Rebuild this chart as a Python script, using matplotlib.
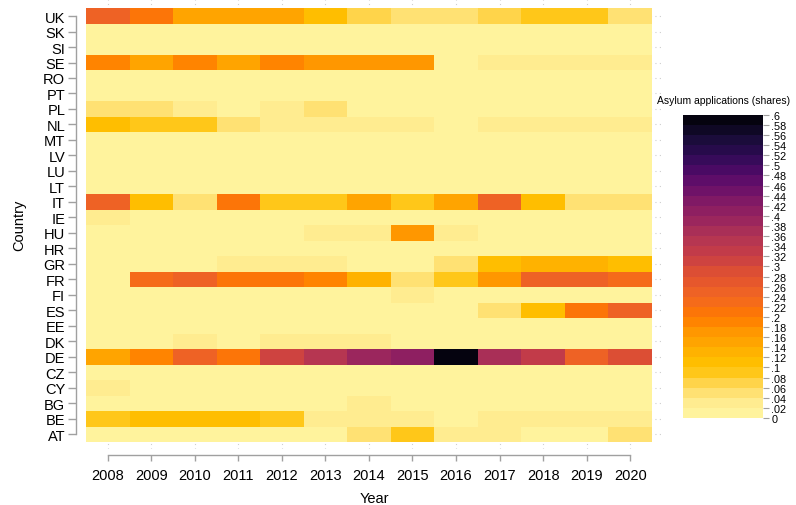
import numpy as np
import matplotlib.pyplot as plt
from matplotlib.colors import LinearSegmentedColormap, ListedColormap, BoundaryNorm

plt.rcParams['font.family'] = ['Liberation Sans', 'DejaVu Sans']

# Data: shares of asylum applications by country and year
years = list(range(2008, 2021))
countries = ["AT", "BE", "BG", "CY", "CZ", "DE", "DK", "EE", "ES", "FI",
             "FR", "GR", "HR", "HU", "IE", "IT", "LT", "LU", "LV", "MT",
             "NL", "PL", "PT", "RO", "SE", "SI", "SK", "UK"]

AT = [0, 0, 0, 0, 0, 0, .055, .08, .035, .035, 0, 0, .04]
BE = [.08, .10, .10, .10, .08, .035, .035, .035, 0, .035, .035, .035, .035]
BG = [0, 0, 0, 0, 0, 0, .035, 0, 0, 0, 0, 0, 0]
CY = [.035, 0, 0, 0, 0, 0, 0, 0, 0, 0, 0, 0, 0]
CZ = [0] * 13
DE = [.15, .18, .24, .20, .30, .35, .38, .40, .59, .36, .32, .24, .28]
DK = [0, 0, .035, 0, .035, .035, .035, 0, 0, 0, 0, 0, 0]
EE = [0] * 13
ES = [0, 0, 0, 0, 0, 0, 0, 0, 0, .055, .10, .20, .24]
FI = [0, 0, 0, 0, 0, 0, 0, .035, 0, 0, 0, 0, 0]
FR = [0, .22, .24, .21, .20, .19, .13, .055, .085, .17, .24, .24, .22]
GR = [0, 0, 0, .035, .035, .035, 0, 0, .055, .10, .13, .13, .11]
HR = [0] * 13
HU = [0, 0, 0, 0, 0, .035, .035, .16, .035, 0, 0, 0, 0]
IE = [.035, 0, 0, 0, 0, 0, 0, 0, 0, 0, 0, 0, 0]
IT = [.24, .10, .055, .20, .08, .08, .15, .08, .14, .24, .10, .055, .055]
LT = [0] * 13
LU = [0] * 13
LV = [0] * 13
MT = [0] * 13
NL = [.10, .08, .08, .055, .035, .035, .035, .035, 0, .03, .03, .03, .03]
PL = [.05, .05, .035, 0, .03, .055, 0, 0, 0, 0, 0, 0, 0]
PT = [0] * 13
RO = [0] * 13
SE = [.18, .14, .18, .14, .19, .16, .16, .16, 0, .03, .03, .03, .03]
SI = [0] * 13
SK = [0] * 13
UK = [.24, .20, .14, .14, .14, .10, .07, .04, .04, .06, .08, .08, .05]

rows = [AT, BE, BG, CY, CZ, DE, DK, EE, ES, FI, FR, GR, HR, HU, IE, IT,
        LT, LU, LV, MT, NL, PL, PT, RO, SE, SI, SK, UK]
shares = np.array(rows, dtype=float)

# Discrete colour scale, 30 bands from 0 to .6
levels = np.linspace(0, 0.6, 31)
anchors = [
    (0.00, "#fff7a4"), (0.04 / .6, "#ffe888"), (0.08 / .6, "#ffcb30"),
    (0.10 / .6, "#ffc300"), (0.14 / .6, "#ffac00"), (0.18 / .6, "#ff8f00"),
    (0.20 / .6, "#ff7a00"), (0.24 / .6, "#f26622"), (0.28 / .6, "#e2532f"),
    (0.32 / .6, "#c83e45"), (0.36 / .6, "#b03355"), (0.40 / .6, "#94225f"),
    (0.44 / .6, "#7a1667"), (0.48 / .6, "#560a6a"), (0.52 / .6, "#2e0b55"),
    (0.56 / .6, "#150c33"), (1.00, "#000004"),
]
smooth = LinearSegmentedColormap.from_list("asyl", anchors)
mids = (levels[:-1] + levels[1:]) / 2 / 0.6
cmap = ListedColormap(smooth(mids))
norm = BoundaryNorm(levels, cmap.N)

fig = plt.figure(figsize=(7.96, 5.06), dpi=100)
ax = fig.add_axes([0.1080, 0.1107, 0.7236, 0.8893])

x_edges = np.arange(years[0] - 0.5, years[-1] + 1.0, 1.0)
y_edges = np.arange(-0.5, len(countries), 1.0)
ax.pcolormesh(x_edges, y_edges, shares, cmap=cmap, norm=norm,
              edgecolor="none", zorder=2)

ax.set_xlim(2007.5, 2020.73)
ax.set_ylim(-0.95, 28.1)
ax.set_xticks(years)
ax.set_xticklabels([str(y) for y in years])
ax.set_yticks(range(len(countries)))
ax.set_yticklabels(countries)

ax.grid(True, linestyle=(0, (1, 3)), color="#cfcfcf", linewidth=0.8, zorder=0)
ax.set_axisbelow(True)

for s in ["top", "right"]:
    ax.spines[s].set_visible(False)
ax.spines["left"].set_position(("outward", 7))
ax.spines["bottom"].set_position(("outward", 4.5))
ax.spines["left"].set_bounds(0, len(countries) - 1)
ax.spines["bottom"].set_bounds(years[0], years[-1])
for s in ["left", "bottom"]:
    ax.spines[s].set_color("#a0a0a0")
    ax.spines[s].set_linewidth(1.0)
ax.tick_params(axis="y", length=6, width=1.0, color="#a0a0a0",
               labelsize=10.5, pad=2)
ax.tick_params(axis="x", length=4.5, width=1.0, color="#a0a0a0",
               labelsize=10.5, pad=5)
ax.set_xlabel("Year", fontsize=10.5, labelpad=6)
ax.set_ylabel("Country", fontsize=10.5, labelpad=12)

# colour bar
cax = fig.add_axes([0.858, 0.172, 0.1005, 0.599])
cb = fig.colorbar(plt.cm.ScalarMappable(norm=norm, cmap=cmap), cax=cax,
                  ticks=levels)
cb.outline.set_visible(False)


def short(v):
    if abs(v) < 1e-9:
        return "0"
    return ("%.2f" % v).rstrip("0").lstrip("0")


cb.ax.set_yticklabels([short(v) for v in levels])
cb.ax.tick_params(length=4, width=0.8, color="#a0a0a0", labelsize=7.8, pad=2)
fig.text(0.8255, 0.8, "Asylum applications (shares)", fontsize=7.5,
         ha="left", va="center")

fig.savefig("out.png", dpi=100)
